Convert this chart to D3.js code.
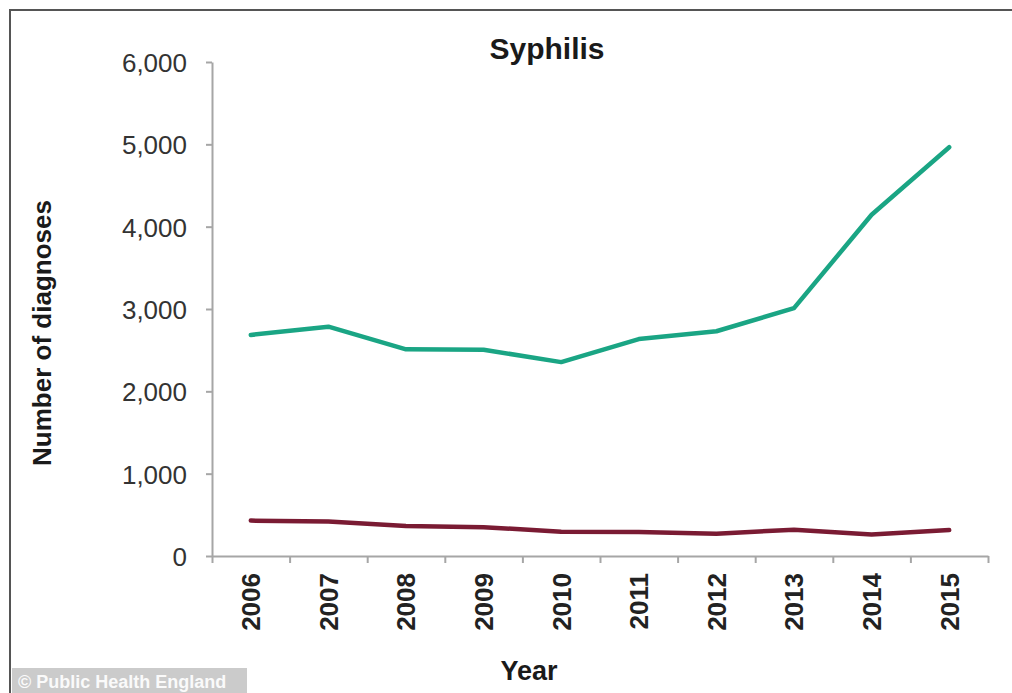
<!DOCTYPE html>
<html>
<head>
  <meta charset="utf-8">
  <style>
    body { margin: 0; background: #fff; }
    svg { display: block; font-family: Arial, "Liberation Sans", sans-serif; }
    .y.axis text { fill: #333; font-size: 26px; }
    .x.axis text { fill: #222; font-size: 26px; font-weight: bold; }
    .axis path, .axis line { stroke: #a6a6a6; stroke-width: 2px; }
  </style>
</head>
<body>
  <div id="chart"></div>

  <script src="https://d3js.org/d3.v7.min.js"></script>
  <script>

    // data
    var years = ["2006", "2007", "2008", "2009", "2010", "2011", "2012", "2013", "2014", "2015"];
    var greenValues = [2685, 2785, 2510, 2505, 2355, 2635, 2730, 3010, 4145, 4965];
    var redValues = [430, 420, 365, 350, 295, 290, 270, 320, 262, 315];
    var yTicks = [0, 1000, 2000, 3000, 4000, 5000, 6000];

    var width = 1012, height = 693;
    var plot = {left: 212, right: 988, top: 62, bottom: 556};

    var svg = d3.select("#chart")
        .append("svg")
        .attr("width", width)
        .attr("height", height);

    // frame of the picture
    svg.append("rect")
        .attr("x", 10)
        .attr("y", 10)
        .attr("width", width + 20)
        .attr("height", height + 20)
        .attr("fill", "#fff")
        .attr("stroke", "#555")
        .attr("stroke-width", 2);

    var x = d3.scaleBand()
        .domain(years)
        .range([plot.left, plot.right])
        .padding(0);

    // boundaries between categories, for the tick marks
    var xEdge = d3.scaleLinear()
        .domain([0, years.length])
        .range([plot.left, plot.right]);

    var y = d3.scaleLinear()
        .domain([0, 6000])
        .range([plot.bottom, plot.top]);

    // y axis
    svg.append("g")
        .attr("class", "y axis")
        .attr("transform", "translate(" + plot.left + ",0)")
        .call(d3.axisLeft(y)
            .tickValues(yTicks)
            .tickSize(6)
            .tickSizeOuter(0)
            .tickPadding(19)
            .tickFormat(d3.format(",")))
        .selectAll("text")
        .attr("dy", "0.36em");

    // x axis line + boundary ticks
    svg.append("g")
        .attr("class", "x axis")
        .attr("transform", "translate(0," + plot.bottom + ")")
        .call(d3.axisBottom(xEdge)
            .tickValues(d3.range(years.length + 1))
            .tickSize(7)
            .tickSizeOuter(0)
            .tickFormat(""));

    // year labels, rotated
    var xLabels = svg.append("g")
        .attr("class", "x axis")
        .attr("transform", "translate(0," + plot.bottom + ")")
        .call(d3.axisBottom(x).tickSize(0).tickPadding(0));
    xLabels.select(".domain").remove();
    xLabels.selectAll("text")
        .attr("transform", "rotate(-90)")
        .attr("x", -17)
        .attr("y", 0)
        .attr("dy", "0.36em")
        .style("text-anchor", "end");

    var line = function (values) {
      return d3.line()
          .x(function (d, i) { return x(years[i]) + x.bandwidth() / 2; })
          .y(function (d) { return y(d); })(values);
    };

    svg.append("path")
        .attr("d", line(redValues))
        .attr("fill", "none")
        .attr("stroke", "#7a1b33")
        .attr("stroke-width", 4.5)
        .attr("stroke-linejoin", "round")
        .attr("stroke-linecap", "round");

    svg.append("path")
        .attr("d", line(greenValues))
        .attr("fill", "none")
        .attr("stroke", "#1aa584")
        .attr("stroke-width", 4.5)
        .attr("stroke-linejoin", "round")
        .attr("stroke-linecap", "round");

    // titles
    svg.append("text")
        .attr("x", 547)
        .attr("y", 59)
        .attr("text-anchor", "middle")
        .style("font-size", "30px")
        .style("font-weight", "bold")
        .attr("fill", "#1a1a1a")
        .text("Syphilis");

    svg.append("text")
        .attr("x", 529)
        .attr("y", 680)
        .attr("text-anchor", "middle")
        .style("font-size", "27px")
        .style("font-weight", "bold")
        .attr("fill", "#1a1a1a")
        .text("Year");

    svg.append("text")
        .attr("transform", "translate(51,333) rotate(-90)")
        .attr("text-anchor", "middle")
        .style("font-size", "26px")
        .style("font-weight", "bold")
        .attr("fill", "#1a1a1a")
        .text("Number of diagnoses");

    // watermark
    svg.append("rect")
        .attr("x", 12)
        .attr("y", 668)
        .attr("width", 235)
        .attr("height", 30)
        .attr("fill", "#cbcbcb");

    svg.append("text")
        .attr("x", 18)
        .attr("y", 688)
        .style("font-size", "18px")
        .style("font-weight", "bold")
        .attr("fill", "#fafafa")
        .text("\u00a9 Public Health England");

  </script>
</body>
</html>
